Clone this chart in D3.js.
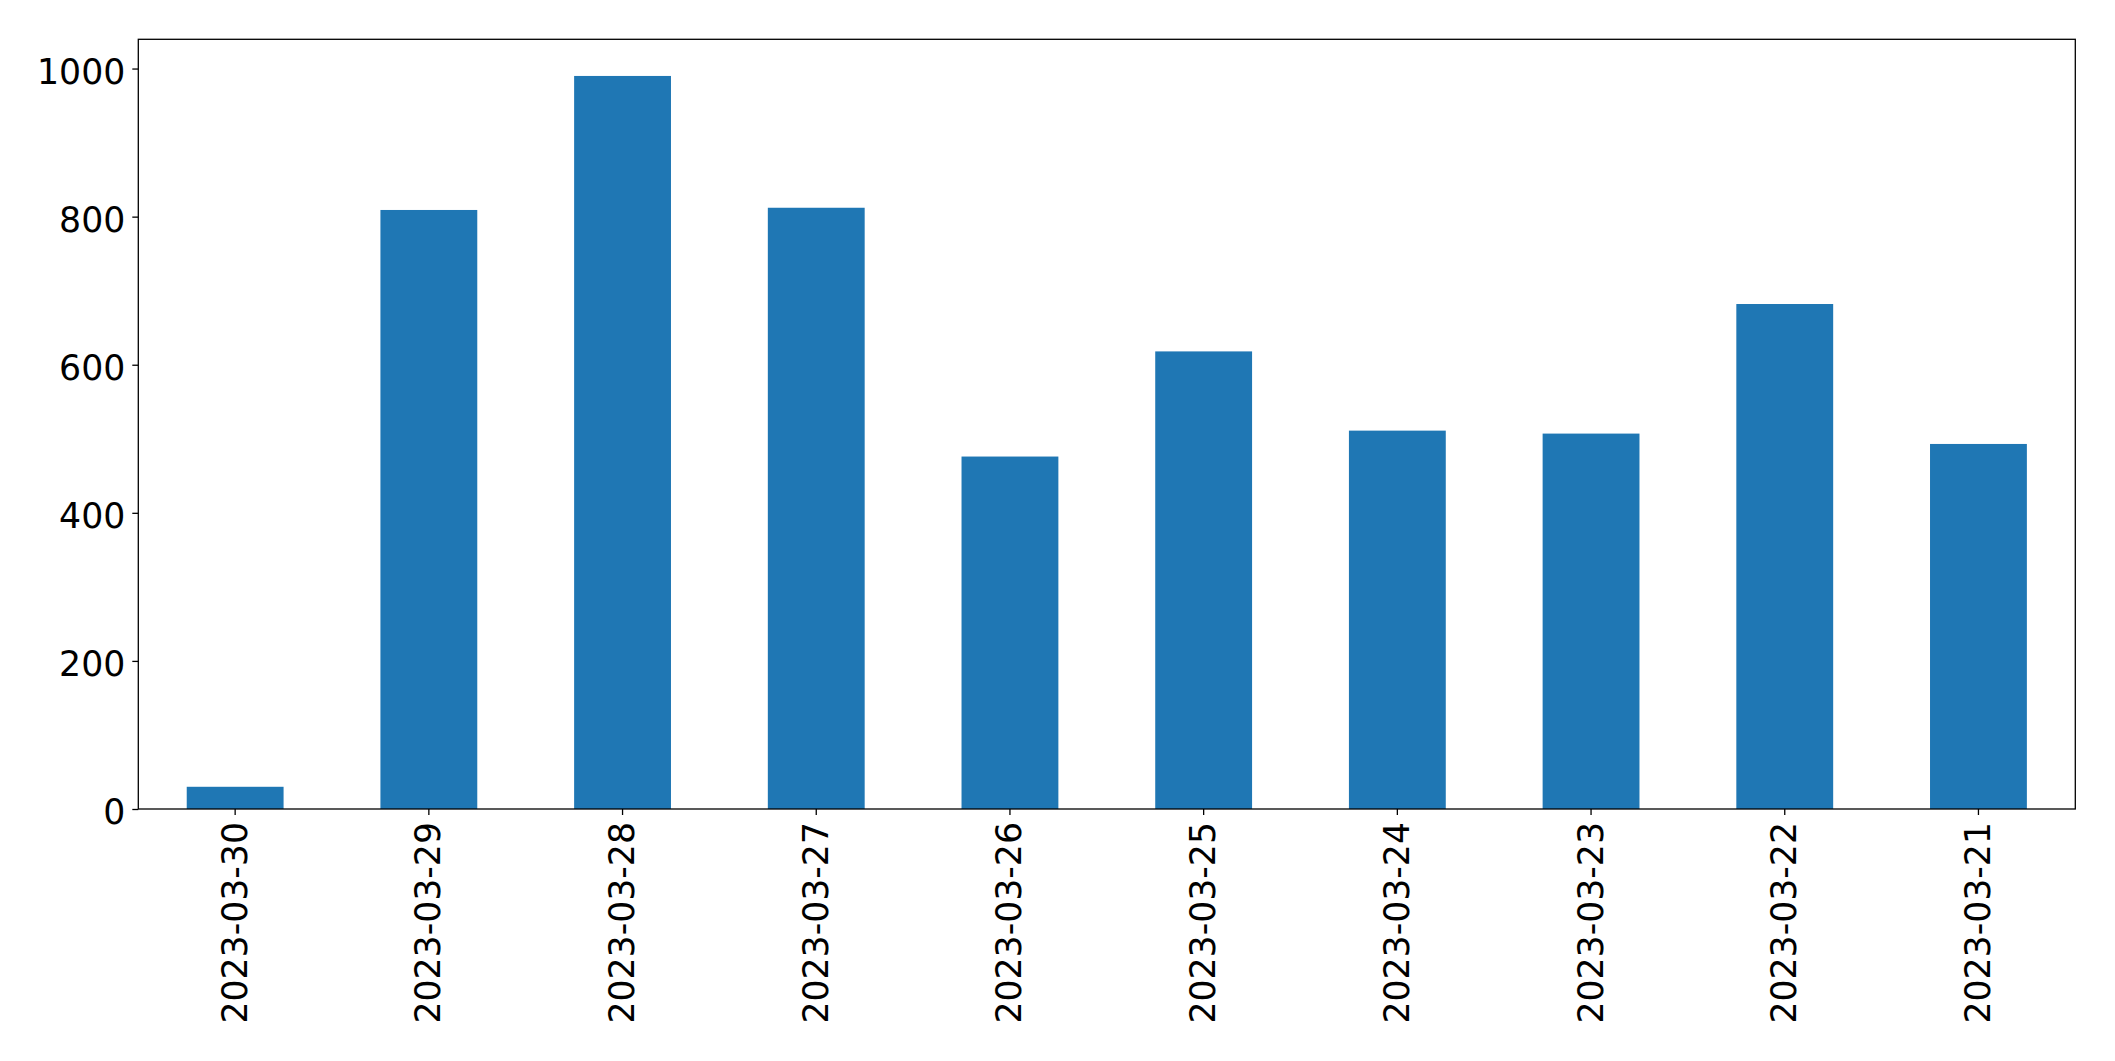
<!DOCTYPE html>
<html>
<head>
<meta charset="utf-8">
<script src="https://cdn.jsdelivr.net/npm/d3@7"></script>
<style>
  html, body { margin: 0; padding: 0; background: #fff; }
  svg { display: block; }
  text { font-family: "DejaVu Sans", sans-serif; fill: #000; }
</style>
</head>
<body>
<svg id="chart" width="2115" height="1061"></svg>
<script>
const categories = ["2023-03-30","2023-03-29","2023-03-28","2023-03-27","2023-03-26","2023-03-25","2023-03-24","2023-03-23","2023-03-22","2023-03-21"];
const values = [30, 809, 990, 812, 476, 618, 511, 507, 682, 493];
const yTicks = [0, 200, 400, 600, 800, 1000];

const W = 2115, H = 1061;
const margin = { left: 138.3, right: W - 2075.3, top: 39.3, bottom: H - 809 };
const svg = d3.select("#chart");
const x = d3.scaleBand().domain(categories)
  .range([margin.left, W - margin.right])
  .paddingInner(0.5).paddingOuter(0.25);
const yMax = d3.max(values) * 1.05;
const y = d3.scaleLinear().domain([0, yMax]).range([H - margin.bottom, margin.top]);

const fontSize = "34.7px";

svg.append("g").selectAll("rect").data(values).join("rect")
  .attr("x", (d, i) => x(categories[i]))
  .attr("width", x.bandwidth())
  .attr("y", d => y(d))
  .attr("height", d => y(0) - y(d))
  .attr("fill", "#1f77b4");

// Y axis
const yAxis = svg.append("g")
  .attr("transform", `translate(${margin.left},0)`)
  .call(d3.axisLeft(y).tickValues(yTicks).tickSize(6).tickPadding(7).tickFormat(d3.format("d")));
yAxis.select(".domain").remove();
yAxis.selectAll(".tick line").attr("stroke", "#000").attr("stroke-width", 1.3);
yAxis.selectAll(".tick text").style("font-size", fontSize).attr("font-family", "DejaVu Sans").attr("fill", "#000")
  .attr("dy", "0.43em");

// X axis
const xAxis = svg.append("g")
  .attr("transform", `translate(0,${H - margin.bottom})`)
  .call(d3.axisBottom(x).tickSize(6).tickPadding(7));
xAxis.select(".domain").remove();
xAxis.selectAll(".tick line").attr("stroke", "#000").attr("stroke-width", 1.3);
xAxis.selectAll(".tick text")
  .style("font-size", fontSize).attr("font-family", "DejaVu Sans").attr("fill", "#000")
  .attr("transform", "rotate(-90)")
  .attr("text-anchor", "end")
  .attr("dy", "0.33em")
  .attr("x", -13)
  .attr("y", 0);

// Frame
svg.append("rect")
  .attr("x", margin.left).attr("y", margin.top)
  .attr("width", W - margin.right - margin.left)
  .attr("height", H - margin.bottom - margin.top)
  .attr("fill", "none").attr("stroke", "#000").attr("stroke-width", 1.3);
</script>
</body>
</html>
